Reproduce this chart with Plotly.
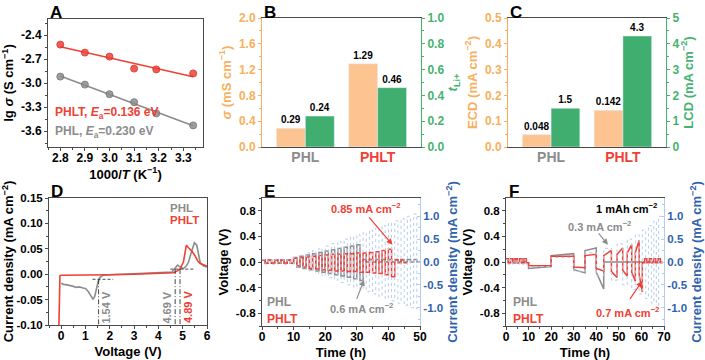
import numpy as np
import plotly.graph_objects as go

W, H = 705, 360
FONT = "Liberation Sans, Arial, sans-serif"
RED = "#ef4136"
GRAY = "#8c8c8c"
ORANGE_BAR = "#fdc390"
ORANGE = "#f8b05c"
GREEN_BAR = "#3fae6e"
GREEN = "#45b36f"
BLUE = "#2f62ad"
BLUE_LIGHT = "#b4cdec"
AXIS = "#4a4a4a"

# ---------- data ----------
# A: Arrhenius
inv_t = [2.80, 2.90, 3.00, 3.10, 3.19, 3.34]
lg_phlt = [-2.52, -2.62, -2.67, -2.82, -2.83, -2.88]
lg_phl = [-2.92, -3.02, -3.14, -3.24, -3.38, -3.53]
a_yticks = [-3.6, -3.3, -3.0, -2.7, -2.4]

# B / C: bars
groups = ["PHL", "PHLT"]
group_colors = [GRAY, RED]
sigma = [0.29, 1.29]
t_li = [0.24, 0.46]
ecd = [0.048, 0.142]
lcd = [1.5, 4.3]

# D: LSV
d_phl_v = [0.0, 0.1, 0.25, 0.4, 0.5, 0.62, 0.75, 0.9, 1.0, 1.1, 1.2, 1.31, 1.38, 1.45, 1.52,
           1.6, 1.72, 2.0, 2.5, 3.0, 3.5, 4.0, 4.3, 4.55, 4.69, 4.79, 4.9, 5.03, 5.15, 5.24,
           5.37, 5.48, 5.58, 5.72, 5.86, 6.0]
d_phl_i = [-0.018, -0.02, -0.021, -0.022, -0.024, -0.026, -0.025, -0.027, -0.028, -0.033,
           -0.04, -0.049, -0.044, -0.03, -0.015, -0.006, -0.002, -0.001, 0.0, 0.0, 0.001,
           0.002, 0.003, 0.004, 0.012, 0.018, 0.014, 0.011, 0.016, 0.024, 0.045, 0.062,
           0.057, 0.023, 0.016, 0.014]
d_phlt_v = [-0.1, -0.08, -0.05, 0.0, 0.5, 1.0, 2.0, 3.0, 4.0, 4.4, 4.62, 4.8, 4.9, 5.03,
            5.1, 5.15, 5.24, 5.37, 5.51, 5.62, 5.72, 5.85, 6.0]
d_phlt_i = [-0.12, -0.06, -0.003, -0.002, -0.002, -0.002, -0.001, 0.0, 0.001, 0.002, 0.003,
            0.007, 0.011, 0.024, 0.045, 0.057, 0.052, 0.046, 0.036, 0.026, 0.021, 0.018, 0.016]
d_yticks = [-0.10, -0.05, 0.00, 0.05, 0.10, 0.15]
onset_v = [1.54, 4.69, 4.89]
onset_i = [-0.01, 0.01, 0.01]
onset_color = [GRAY, GRAY, RED]

# E: rate test, 2 h cycles
e_j = [0.05, 0.05, 0.05, 0.05, 0.05, 0.10, 0.15, 0.20, 0.25, 0.30, 0.35, 0.40, 0.45, 0.50,
       0.55, 0.60, 0.65, 0.70, 0.75, 0.80, 0.85, 0.90, 0.95, 1.00, 1.05]
e_phlt_up = [0.03, 0.03, 0.03, 0.03, 0.03, 0.06, 0.07, 0.08, 0.09, 0.10, 0.11, 0.12, 0.12,
             0.13, 0.13, 0.14, 0.14, 0.15, 0.16, 0.18, 0.20, 0.03, 0.03]
e_phlt_dn = [-0.02, -0.02, -0.02, -0.02, -0.02, -0.06, -0.08, -0.10, -0.11, -0.12, -0.13,
             -0.14, -0.14, -0.15, -0.15, -0.16, -0.16, -0.17, -0.18, -0.20, -0.23, -0.01, -0.01]
e_phl_up = [0.03, 0.03, 0.03, 0.03, 0.03, 0.07, 0.09, 0.11, 0.13, 0.15, 0.17, 0.19, 0.21,
            0.23, 0.25, 0.27, 0.04, 0.04, 0.04, 0.04, 0.04, 0.04, 0.04, 0.04, 0.04]
e_phl_dn = [-0.02, -0.02, -0.02, -0.02, -0.02, -0.08, -0.10, -0.12, -0.14, -0.16, -0.18,
            -0.20, -0.22, -0.24, -0.26, -0.29, 0.0, 0.0, 0.0, 0.0, 0.0, 0.0, 0.0, 0.0, 0.0]
v_ticks = [-0.8, -0.4, 0.0, 0.4, 0.8]
j_ticks = [-1.0, -0.5, 0.0, 0.5, 1.0]

# F: fixed capacity test
f_bounds = [0, 1, 2, 3, 4, 5, 6, 7, 8, 9, 10, 20, 30, 35, 40, 43.3, 46.7, 49.2, 51.7, 53.7,
            55.7, 57.3, 59.0, 60.4, 61.4, 62.4, 63.4, 64.4, 65.4, 66.4, 67.4, 68.4, 69.4]
f_phlt_start = [0.05, -0.01, 0.05, -0.01, 0.05, -0.01, 0.05, -0.01, 0.05, -0.01,
                -0.06, 0.09, -0.08, 0.10, -0.10, 0.10, -0.15, 0.12, -0.13, 0.14, -0.16, 0.15,
                -0.20, -0.01, 0.05, -0.01, 0.05, -0.01, 0.05, -0.01, 0.05, -0.01]
f_phlt_end = [0.05, -0.01, 0.05, -0.01, 0.05, -0.01, 0.05, -0.01, 0.05, -0.01,
              -0.06, 0.09, -0.09, 0.12, -0.14, 0.18, -0.24, 0.22, -0.22, 0.27, -0.30, 0.34,
              -0.47, -0.01, 0.05, -0.01, 0.05, -0.01, 0.05, -0.01, 0.05, -0.01]
f_phl_start = [0.05, -0.01, 0.05, -0.01, 0.05, -0.01, 0.05, -0.01, 0.05, -0.01,
               -0.10, 0.10, -0.12, 0.18, -0.16, 0.0, 0.0, 0.0, 0.0, 0.0, 0.0, 0.0, 0.0,
               0.0, 0.0, 0.0, 0.0, 0.0, 0.0, 0.0, 0.0, 0.0]
f_phl_end = [0.05, -0.01, 0.05, -0.01, 0.05, -0.01, 0.05, -0.01, 0.05, -0.01,
             -0.07, 0.13, -0.17, 0.22, -0.42, 0.0, 0.0, 0.0, 0.0, 0.0, 0.0, 0.0, 0.0,
             0.0, 0.0, 0.0, 0.0, 0.0, 0.0, 0.0, 0.0, 0.0]
f_j_bounds = [0, 1, 2, 3, 4, 5, 6, 7, 8, 9, 10, 20, 30, 35, 40, 43.3, 46.7, 49.2, 51.7, 53.7,
              55.7, 57.3, 59.0, 60.4, 61.9, 63.1, 64.4, 65.5, 66.6, 67.6, 68.6]
f_j = [0.05, -0.05, 0.05, -0.05, 0.05, -0.05, 0.05, -0.05, 0.05, -0.05,
       -0.1, 0.1, -0.2, 0.2, -0.3, 0.3, -0.4, 0.4, -0.5, 0.5, -0.6, 0.6, -0.7, 0.7,
       -0.8, 0.8, -0.9, 0.9, -1.0, 1.0]


def square_wave(up, dn, period):
    t, v = [], []
    for i in range(len(up)):
        t += [i * period, i * period + period / 2]
        v += [up[i], dn[i]]
    t.append(len(up) * period)
    v.append(dn[-1])
    return t, v


def segments(bounds, vs, ve):
    t, v = [], []
    for i in range(len(vs)):
        t += [bounds[i], bounds[i + 1]]
        v += [vs[i], ve[i]]
    return t, v


def dom_x(a, b):
    return [a / W, b / W]


def dom_y(top, bot):
    return [1 - bot / H, 1 - top / H]


def tf(color="black", size=12):
    return dict(family=FONT, size=size, color=color, weight="bold")


def labels(vals, fmt):
    # plain hyphen minus, as in the original figure
    return [format(v, fmt) for v in vals]


def axis(**kw):
    base = dict(showline=True, linecolor=AXIS, linewidth=1, ticks="outside", ticklen=3,
                tickwidth=1, tickcolor=AXIS, showgrid=False, zeroline=False, automargin=False,
                tickfont=tf(), title_font=tf(size=13), title_standoff=4)
    base.update(kw)
    return base


def xaxis(**kw):
    return axis(ticklabelstandoff=-3, **kw)


fig = go.Figure()

# ---------- A ----------
xs = np.array([inv_t[0], inv_t[-1]])
for ys, col, edge in [(lg_phlt, RED, "#d12e26"), (lg_phl, GRAY, "#6e6e6e")]:
    k, b = np.polyfit(inv_t, ys, 1)
    fig.add_trace(go.Scatter(x=xs, y=k * xs + b, mode="lines", line=dict(color=col, width=1.6),
                             xaxis="x", yaxis="y"))
    fig.add_trace(go.Scatter(x=inv_t, y=ys, mode="markers",
                             marker=dict(size=7, color=col, opacity=0.85,
                                         line=dict(color=edge, width=1)),
                             xaxis="x", yaxis="y"))

# ---------- B ----------
cat = [0, 1]
fig.add_trace(go.Bar(x=cat, y=sigma, width=0.4, offset=-0.4, marker_color=ORANGE_BAR,
                     texttemplate="%{y:.2f}", textposition="outside", textfont=tf(size=10),
                     cliponaxis=False, xaxis="x2", yaxis="y2"))
fig.add_trace(go.Bar(x=cat, y=t_li, width=0.4, offset=0, marker_color=GREEN_BAR,
                     texttemplate="%{y:.2f}", textposition="outside", textfont=tf(size=10),
                     cliponaxis=False, xaxis="x2", yaxis="y3"))

# ---------- C ----------
fig.add_trace(go.Bar(x=cat, y=ecd, width=0.4, offset=-0.4, marker_color=ORANGE_BAR,
                     texttemplate="%{y:.3f}", textposition="outside", textfont=tf(size=10),
                     cliponaxis=False, xaxis="x3", yaxis="y4"))
fig.add_trace(go.Bar(x=cat, y=lcd, width=0.4, offset=0, marker_color=GREEN_BAR,
                     texttemplate="%{y:.1f}", textposition="outside", textfont=tf(size=10),
                     cliponaxis=False, xaxis="x3", yaxis="y5"))

# ---------- D ----------
fig.add_trace(go.Scatter(x=d_phl_v, y=d_phl_i, mode="lines", line=dict(color=GRAY, width=1.6),
                         xaxis="x4", yaxis="y6"))
fig.add_trace(go.Scatter(x=d_phlt_v, y=d_phlt_i, mode="lines", line=dict(color=RED, width=1.6),
                         xaxis="x4", yaxis="y6"))
for v, i in [(onset_v[0], onset_i[0]), (onset_v[1], onset_i[1])]:
    fig.add_trace(go.Scatter(x=[v - 0.25, v + 0.6] if v < 3 else [v - 0.2, v + 0.75],
                             y=[i, i], mode="lines",
                             line=dict(color="#333333", width=0.9, dash="3px,2px"),
                             xaxis="x4", yaxis="y6"))
for v, i in zip(onset_v, onset_i):
    fig.add_trace(go.Scatter(x=[v, v], y=[i, -0.1], mode="lines",
                             line=dict(color="#333333", width=0.9, dash="5px,2px,1px,2px"),
                             xaxis="x4", yaxis="y6"))

# ---------- E ----------
t, v = square_wave(e_j, [-j for j in e_j], 2.0)
fig.add_trace(go.Scatter(x=t, y=v, mode="lines", line=dict(color=BLUE_LIGHT, width=1, dash="dot",
                                                            shape="hv"), xaxis="x5", yaxis="y8"))
t, v = square_wave(e_phl_up, e_phl_dn, 2.0)
fig.add_trace(go.Scatter(x=t, y=v, mode="lines", line=dict(color=GRAY, width=1.5, shape="hv"),
                         xaxis="x5", yaxis="y7"))
t, v = square_wave(e_phlt_up, e_phlt_dn, 2.0)
fig.add_trace(go.Scatter(x=t, y=v, mode="lines", line=dict(color=RED, width=1.5, shape="hv"),
                         xaxis="x5", yaxis="y7"))

# ---------- F ----------
fig.add_trace(go.Scatter(x=f_j_bounds, y=f_j + [f_j[-1]], mode="lines",
                         line=dict(color=BLUE_LIGHT, width=1, dash="dot", shape="hv"),
                         xaxis="x6", yaxis="y10"))
t, v = segments(f_bounds, f_phl_start, f_phl_end)
fig.add_trace(go.Scatter(x=t, y=v, mode="lines", line=dict(color=GRAY, width=1.5),
                         xaxis="x6", yaxis="y9"))
t, v = segments(f_bounds, f_phlt_start, f_phlt_end)
fig.add_trace(go.Scatter(x=t, y=v, mode="lines", line=dict(color=RED, width=1.5),
                         xaxis="x6", yaxis="y9"))

# ---------- layout ----------
cat_text = [f'<span style="color:{c}">{g}</span>' for g, c in zip(groups, group_colors)]
cm1 = " (S cm<sup>−1</sup>)"
cm2 = " (mA cm<sup>−2</sup>)"
small = 11.5


def volt_axis(xa):
    return axis(domain=dom_y(198, 326), range=[-1.0, 1.0], tickvals=v_ticks,
                ticktext=labels(v_ticks, ".1f"), anchor=xa, tickfont=tf(size=small),
                minor=dict(ticks="outside", ticklen=2, dtick=0.2, tick0=0, tickcolor=AXIS),
                title_text="Voltage (V)")


def cur_axis(xa, ov):
    return axis(domain=dom_y(198, 326), range=[-1.4, 1.4], tickvals=j_ticks,
                ticktext=labels(j_ticks, ".1f"), anchor=xa, overlaying=ov, side="right",
                ticks="inside", ticklen=3, linecolor=BLUE_LIGHT, tickcolor=BLUE_LIGHT,
                tickfont=tf(BLUE, small),
                minor=dict(ticks="inside", ticklen=2, dtick=0.25, tick0=0, tickcolor=BLUE_LIGHT),
                title_text="Current density" + cm2, title_font=tf(BLUE, 13), title_standoff=3)


layout = dict(
    width=W, height=H, margin=dict(l=0, r=0, t=0, b=0, autoexpand=False), showlegend=False,
    paper_bgcolor="white", plot_bgcolor="white", barmode="overlay",
    font=dict(family=FONT),
    # A
    xaxis=xaxis(domain=dom_x(48, 203), range=[2.75, 3.38], dtick=0.1, tick0=2.8,
                tickformat=".1f", mirror=True, anchor="y",
                minor=dict(ticks="outside", ticklen=2, dtick=0.05, tickcolor=AXIS),
                title_text="1000/<i>T</i> (K<sup>−1</sup>)"),
    yaxis=axis(domain=dom_y(19, 147), range=[-3.8, -2.2], tickvals=a_yticks,
               ticktext=labels(a_yticks, ".1f"), mirror=True, anchor="x",
               minor=dict(ticks="outside", ticklen=2, dtick=0.15, tick0=-3.6, tickcolor=AXIS),
               title_text="lg <i>σ</i>" + cm1),
    # B
    xaxis2=xaxis(domain=dom_x(262, 421), range=[-0.6, 1.6], tickvals=cat, ticktext=cat_text,
                 ticks="", mirror=True, anchor="y2", tickfont=tf(size=14)),
    yaxis2=axis(domain=dom_y(18, 147), range=[0, 2.0], dtick=0.4, tickformat=".1f",
                anchor="x2", linecolor=ORANGE, tickcolor=ORANGE, tickfont=tf(ORANGE),
                minor=dict(ticks="outside", ticklen=2, dtick=0.2, tickcolor=ORANGE),
                title_text="<i>σ</i> (mS cm<sup>−1</sup>)", title_font=tf(ORANGE, 13)),
    yaxis3=axis(domain=dom_y(18, 147), range=[0, 1.0], dtick=0.2, tickformat=".1f",
                anchor="x2", overlaying="y2", side="right", linecolor=GREEN, tickcolor=GREEN,
                tickfont=tf(GREEN),
                minor=dict(ticks="outside", ticklen=2, dtick=0.1, tickcolor=GREEN),
                title_text="<i>t</i><sub>Li+</sub>", title_font=tf(GREEN, 13)),
    # C
    xaxis3=xaxis(domain=dom_x(508, 666), range=[-0.6, 1.6], tickvals=cat, ticktext=cat_text,
                 ticks="", mirror=True, anchor="y4", tickfont=tf(size=14)),
    yaxis4=axis(domain=dom_y(18, 147), range=[0, 0.5], dtick=0.1, tickformat=".1f",
                anchor="x3", linecolor=ORANGE, tickcolor=ORANGE, tickfont=tf(ORANGE),
                minor=dict(ticks="outside", ticklen=2, dtick=0.05, tickcolor=ORANGE),
                title_text="ECD" + cm2, title_font=tf(ORANGE, 13)),
    yaxis5=axis(domain=dom_y(18, 147), range=[0, 5], dtick=1, anchor="x3", overlaying="y4",
                side="right", linecolor=GREEN, tickcolor=GREEN, tickfont=tf(GREEN),
                minor=dict(ticks="outside", ticklen=2, dtick=0.5, tickcolor=GREEN),
                title_text="LCD" + cm2, title_font=tf(GREEN, 13)),
    # D
    xaxis4=xaxis(domain=dom_x(49, 207), range=[-0.5, 6], dtick=1, tick0=0, mirror=True,
                 anchor="y6", minor=dict(ticks="outside", ticklen=2, dtick=0.5, tickcolor=AXIS),
                 title_text="Voltage (V)"),
    yaxis6=axis(domain=dom_y(198, 325), range=[-0.1, 0.15], tickvals=d_yticks,
                ticktext=labels(d_yticks, ".2f"), tickfont=tf(size=small),
                mirror=True, anchor="x4",
                minor=dict(ticks="outside", ticklen=2, dtick=0.025, tick0=0, tickcolor=AXIS),
                title_text="Current density" + cm2),
    # E
    xaxis5=xaxis(domain=dom_x(262, 420), range=[0, 50], dtick=10, mirror=True, anchor="y7",
                 minor=dict(ticks="outside", ticklen=2, dtick=5, tickcolor=AXIS),
                 title_text="Time (h)"),
    yaxis7=volt_axis("x5"),
    yaxis8=cur_axis("x5", "y7"),
    # F
    xaxis6=xaxis(domain=dom_x(506, 664), range=[0, 70], dtick=10, mirror=True, anchor="y9",
                 minor=dict(ticks="outside", ticklen=2, dtick=5, tickcolor=AXIS),
                 title_text="Time (h)"),
    yaxis9=volt_axis("x6"),
    yaxis10=cur_axis("x6", "y9"),
)
fig.update_layout(**layout)

ann = []
# panel letters
for letter, px, py in [("A", 48, 1), ("B", 262, 1), ("C", 508, 1),
                       ("D", 49, 180), ("E", 262, 180), ("F", 507, 180)]:
    ann.append(dict(text=letter, x=px / W, y=1 - py / H, xref="paper", yref="paper",
                    xanchor="left", yanchor="top", showarrow=False, font=tf(size=17)))


def txt(text, x, y, xr, yr, color, size=12, **kw):
    d = dict(text=text, x=x, y=y, xref=xr, yref=yr, showarrow=False, font=tf(color, size))
    d.update(kw)
    ann.append(d)


def arrow(x, y, ax, ay, xr, yr, color):
    ann.append(dict(text="", x=x, y=y, ax=ax, ay=ay, xref=xr, yref=yr, axref=xr, ayref=yr,
                    showarrow=True, arrowhead=2, arrowsize=1, arrowwidth=1.2,
                    arrowcolor=color))


# A labels
txt("PHLT, <i>E</i><sub>a</sub>=0.136 eV", 2.77, -3.38, "x", "y", RED, xanchor="left")
txt("PHL, <i>E</i><sub>a</sub>=0.230 eV", 2.77, -3.61, "x", "y", GRAY, xanchor="left")

# D labels
txt("PHL", 4.4, 0.13, "x4", "y6", GRAY, size=11.5, xanchor="left")
txt("PHLT", 4.4, 0.106, "x4", "y6", RED, size=11.5, xanchor="left")
for v, c, dx in zip(onset_v, onset_color, [0.32, -0.32, 0.32]):
    txt(f"{v:.2f} V", v + dx, -0.065, "x4", "y6", c, size=11, textangle=-90)

# E labels
txt("PHL", 1, -0.62, "x5", "y7", GRAY, xanchor="left")
txt("PHLT", 1, -0.89, "x5", "y7", RED, xanchor="left")
txt("0.85 mA cm<sup>−2</sup>", 33, 0.85, "x5", "y7", RED, size=11)
arrow(41.3, 0.27, 33.5, 0.72, "x5", "y7", RED)
txt("0.6 mA cm<sup>−2</sup>", 31.5, -0.72, "x5", "y7", GRAY, size=11)
arrow(32.3, -0.28, 29.8, -0.6, "x5", "y7", GRAY)

# F labels
txt("1 mAh cm<sup>−2</sup>", 53.5, 0.85, "x6", "y9", "black", size=11)
txt("0.3 mA cm<sup>−2</sup>", 41.5, 0.57, "x6", "y9", GRAY, size=11)
arrow(45.2, 0.27, 40.5, 0.47, "x6", "y9", GRAY)
txt("0.7 mA cm<sup>−2</sup>", 54, -0.78, "x6", "y9", RED, size=11)
arrow(60.3, -0.3, 54.5, -0.6, "x6", "y9", RED)
txt("PHL", 2, -0.62, "x6", "y9", GRAY, xanchor="left")
txt("PHLT", 2, -0.89, "x6", "y9", RED, xanchor="left")

fig.update_layout(annotations=ann)
fig.write_html("out.html", config={"displayModeBar": False},
               post_script="document.body.style.margin='0';document.body.style.padding='0';")
